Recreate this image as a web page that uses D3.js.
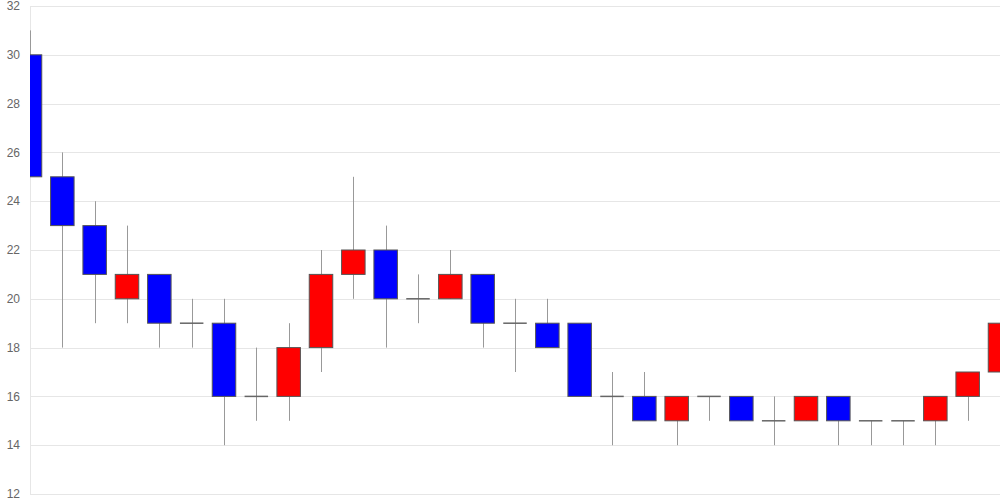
<!DOCTYPE html>
<html>
<head>
<meta charset="utf-8">
<script src="https://cdn.jsdelivr.net/npm/d3@7"></script>
<style>
  body { margin: 0; background: #fff; }
  #chart { width: 1000px; height: 500px; }
</style>
</head>
<body>
<div id="chart"></div>
<script>
const opens  = [30, 25, 23, 20, 21, 19, 19, 16, 16, 18, 21, 22, 20, 20, 21, 19, 19, 19, 16, 16, 15, 16, 16, 15, 15, 16, 15, 15, 15, 16, 17]
const closes = [25, 23, 21, 21, 19, 19, 16, 16, 18, 21, 22, 20, 20, 21, 19, 19, 18, 16, 16, 15, 16, 16, 15, 15, 16, 15, 15, 15, 16, 17, 19]
const highs  = [31, 26, 24, 23, 21, 20, 20, 18, 19, 22, 25, 23, 21, 22, 21, 20, 20, 19, 17, 17, 16, 16, 16, 16, 16, 16, 15, 15, 16, 17, 20]
const lows   = [25, 18, 19, 19, 18, 18, 14, 15, 15, 17, 20, 18, 19, 20, 18, 17, 18, 16, 14, 15, 14, 15, 15, 14, 15, 14, 14, 14, 14, 15, 15]
const yTicks = [12, 14, 16, 18, 20, 22, 24, 26, 28, 30, 32]

const width = 1000
const height = 500
const margin = { top: 6, right: 0, bottom: 6, left: 30 }

const candles = opens.map((o, i) => ({ i, open: o, close: closes[i], high: highs[i], low: lows[i] }))

const svg = d3.select('#chart')
  .append('svg')
  .attr('width', width)
  .attr('height', height)

const x = d3.scaleLinear()
  .domain([0, candles.length - 1])
  .range([margin.left, width - margin.right])

const y = d3.scaleLinear()
  .domain([12, 32])
  .range([height - margin.bottom, margin.top])

const bodyW = 23.5

// grid + labels
svg.append('g')
  .selectAll('line')
  .data(yTicks)
  .enter()
  .append('line')
  .attr('x1', margin.left)
  .attr('x2', width)
  .attr('y1', d => Math.round(y(d)) + 0.5)
  .attr('y2', d => Math.round(y(d)) + 0.5)
  .attr('stroke', '#e6e6e6')

svg.append('line')
  .attr('x1', margin.left + 0.5)
  .attr('x2', margin.left + 0.5)
  .attr('y1', margin.top)
  .attr('y2', height - margin.bottom)
  .attr('stroke', '#e6e6e6')

svg.append('g')
  .selectAll('text')
  .data(yTicks)
  .enter()
  .append('text')
  .attr('x', 20)
  .attr('y', d => y(d))
  .attr('dy', '0.35em')
  .attr('text-anchor', 'end')
  .attr('fill', '#666')
  .style('font', '12px Arial, "Liberation Sans", sans-serif')
  .text(d => d)

svg.append('clipPath')
  .attr('id', 'plot')
  .append('rect')
  .attr('x', margin.left)
  .attr('y', 0)
  .attr('width', width - margin.left)
  .attr('height', height)

const g = svg.append('g').attr('clip-path', 'url(#plot)')

// wicks
g.selectAll('.wick')
  .data(candles)
  .enter()
  .append('line')
  .attr('class', 'wick')
  .attr('x1', d => Math.round(x(d.i)) + 0.5)
  .attr('x2', d => Math.round(x(d.i)) + 0.5)
  .attr('y1', d => y(d.high))
  .attr('y2', d => y(d.low))
  .attr('stroke', '#999')

// bodies
g.selectAll('.body')
  .data(candles.filter(d => d.open !== d.close))
  .enter()
  .append('rect')
  .attr('class', 'body')
  .attr('x', d => x(d.i) - bodyW / 2)
  .attr('width', bodyW)
  .attr('y', d => y(Math.max(d.open, d.close)))
  .attr('height', d => Math.abs(y(d.open) - y(d.close)))
  .attr('fill', d => d.close > d.open ? '#ff0000' : '#0000ff')
  .attr('stroke', '#555')
  .attr('stroke-width', 1)

// doji bars
g.selectAll('.doji')
  .data(candles.filter(d => d.open === d.close))
  .enter()
  .append('line')
  .attr('class', 'doji')
  .attr('x1', d => x(d.i) - bodyW / 2)
  .attr('x2', d => x(d.i) + bodyW / 2)
  .attr('y1', d => y(d.open))
  .attr('y2', d => y(d.open))
  .attr('stroke', '#666')
  .attr('stroke-width', 1.5)
</script>
</body>
</html>
